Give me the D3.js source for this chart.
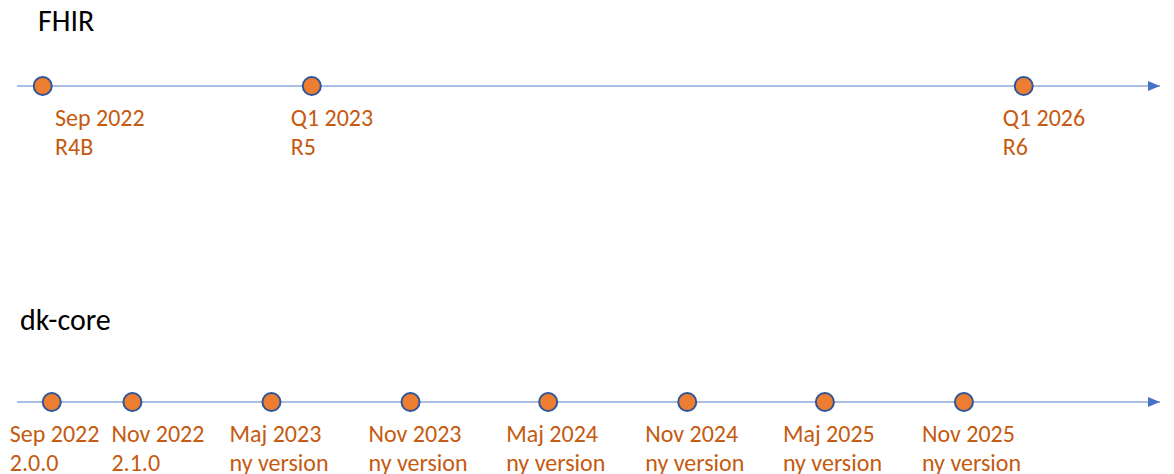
<!DOCTYPE html>
<html>
<head>
<meta charset="utf-8">
<script src="https://cdn.jsdelivr.net/npm/d3@7"></script>
<style>
  html, body { margin: 0; padding: 0; background: #fff; }
  svg { display: block; font-family: Calibri, Carlito, Lato, sans-serif; }
</style>
</head>
<body>
<svg id="chart" width="1174" height="474"></svg>
<script>
/* ── Data ─────────────────────────────── */
// position = place along the timeline, in half-year steps
const fhirDates     = ["Sep 2022", "Q1 2023", "Q1 2026"];
const fhirVersions  = ["R4B", "R5", "R6"];
const fhirPos       = [-0.065, 1.87, 6.99];

const dkDates    = ["Sep 2022", "Nov 2022", "Maj 2023", "Nov 2023", "Maj 2024", "Nov 2024", "Maj 2025", "Nov 2025"];
const dkVersions = ["2.0.0", "2.1.0", "ny version", "ny version", "ny version", "ny version", "ny version", "ny version"];
const dkPos      = [0, 0.58, 1.58, 2.58, 3.57, 4.57, 5.56, 6.56];

/* ── Layout ───────────────────────────── */
const svg = d3.select("#chart");

const x = d3.scaleLinear().domain([-0.25, 7.97]).range([17, 1160]);

const lineColor  = "#8FAADC";
const arrowColor = "#4472C4";
const dotFill    = "#ED7D31";
const dotStroke  = "#2F5597";
const labelColor = "#C55A11";
const fontSize   = 24;
const lineGap    = 28.5;

svg.append("defs").append("marker")
    .attr("id", "arrow")
    .attr("viewBox", "0 0 12 10")
    .attr("refX", 12).attr("refY", 5)
    .attr("markerWidth", 12).attr("markerHeight", 10)
    .attr("markerUnits", "userSpaceOnUse")
    .attr("orient", "auto")
  .append("path")
    .attr("d", "M0,0 L12,5 L0,10 Z")
    .attr("fill", arrowColor);

function drawRow(cfg) {
    const g = svg.append("g");

    g.append("text")
        .attr("x", cfg.titleX).attr("y", cfg.titleY)
        .attr("font-size", 30).attr("fill", "#000")
        .text(cfg.title);

    const [x0, x1] = x.range();
    g.append("line")
        .attr("x1", x0).attr("x2", x1)
        .attr("y1", cfg.y).attr("y2", cfg.y)
        .attr("stroke", lineColor).attr("stroke-width", 1.5)
        .attr("marker-end", "url(#arrow)");

    const items = cfg.dates.map((d, i) => ({ date: d, version: cfg.versions[i], pos: cfg.pos[i] }));

    g.selectAll("circle")
        .data(items).join("circle")
        .attr("cx", d => x(d.pos)).attr("cy", cfg.y)
        .attr("r", 9)
        .attr("fill", dotFill)
        .attr("stroke", dotStroke).attr("stroke-width", 2);

    // labels: left aligned, shifted left of the dot, pushed right to avoid overlap
    let prevRight = -Infinity;
    const labels = g.selectAll("g.label")
        .data(items).join("g")
        .attr("class", "label")
        .attr("fill", labelColor)
        .attr("font-size", fontSize);

    labels.each(function (d) {
        const lg = d3.select(this);
        lg.append("text").attr("y", cfg.labelY).text(d.date);
        lg.append("text").attr("y", cfg.labelY + lineGap).text(d.version);
        const w = this.getBBox().width;
        let left = Math.max(x(d.pos) + cfg.labelDx, cfg.minLeft, prevRight + 12);
        lg.attr("transform", `translate(${left},0)`);
        prevRight = left + w;
    });
}

drawRow({
    title: "FHIR", titleX: 38, titleY: 31,
    y: 86, dates: fhirDates, versions: fhirVersions, pos: fhirPos,
    labelY: 126, labelDx: -21, minLeft: 55
});

drawRow({
    title: "dk-core", titleX: 20, titleY: 330,
    y: 402, dates: dkDates, versions: dkVersions, pos: dkPos,
    labelY: 442, labelDx: -42, minLeft: 9
});
</script>
</body>
</html>
